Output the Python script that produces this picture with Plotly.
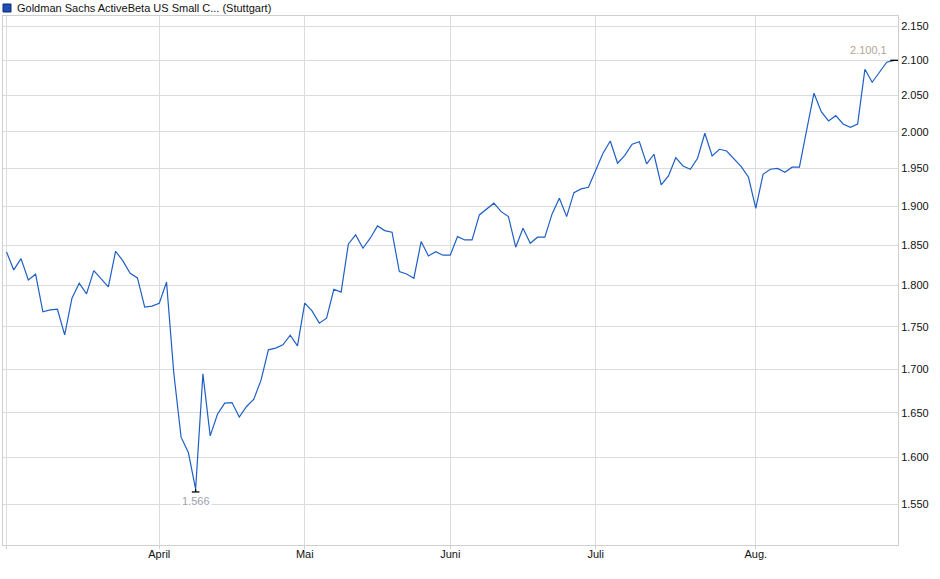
import math
import plotly.graph_objects as go

# Goldman Sachs ActiveBeta US Small Cap (Stuttgart), daily closes, 3 Mar - 28 Aug 2025
close = [
    1842.0, 1819.4, 1833.5, 1807.0, 1814.1, 1767.9, 1770.3, 1771.1, 1740.3, 1784.5,
    1802.9, 1789.8, 1818.5, 1808.6, 1798.4, 1842.8, 1830.6, 1815.3, 1809.5, 1773.6,
    1774.8, 1778.4, 1804.2, 1695.2, 1622.6, 1605.6, 1566.0, 1694.4, 1624.0, 1648.3,
    1660.8, 1661.5, 1645.0, 1657.0, 1665.3, 1687.5, 1722.5, 1724.5, 1728.4, 1739.9,
    1727.2, 1778.4, 1769.1, 1754.3, 1760.3, 1795.5, 1791.9, 1852.1, 1863.5, 1846.6,
    1859.3, 1875.0, 1869.0, 1867.0, 1817.3, 1814.4, 1809.1, 1855.0, 1836.9, 1842.3,
    1837.8, 1837.8, 1861.3, 1857.1, 1857.1, 1889.2, 1896.6, 1904.4, 1893.4, 1887.0,
    1847.9, 1872.1, 1853.0, 1860.6, 1860.6, 1890.5, 1910.9, 1887.0, 1918.2, 1923.1,
    1925.3, 1948.2, 1970.6, 1987.3, 1957.2, 1967.7, 1982.8, 1986.3, 1956.3, 1969.3,
    1928.4, 1940.3, 1964.7, 1953.6, 1949.2, 1963.9, 1997.8, 1967.0, 1976.0, 1973.7,
    1962.6, 1952.7, 1938.5, 1897.8, 1942.5, 1949.2, 1950.2, 1945.2, 1951.9, 1951.9,
    2002.3, 2053.3, 2027.6, 2014.7, 2022.0, 2010.5, 2006.0, 2010.5, 2087.2, 2068.8,
    2083.0, 2097.3, 2100.1,
]
idx = list(range(len(close)))

# first trading day of each month (index into close)
month_pos = [0, 21, 41, 61, 81, 103]
month_names = ["", "April", "Mai", "Juni", "Juli", "Aug."]

y_ticks = [1550, 1600, 1650, 1700, 1750, 1800, 1850, 1900, 1950, 2000, 2050, 2100, 2150]

title = "Goldman Sachs ActiveBeta US Small C... (Stuttgart)"


def de_fmt(v, dec):
    s = f"{v:,.{dec}f}"
    return s.replace(",", "X").replace(".", ",").replace("X", ".")


i_min = min(idx, key=lambda i: close[i])
v_min = close[i_min]
i_last = idx[-1]
v_last = close[-1]

fig = go.Figure()
fig.add_trace(go.Scatter(
    x=idx, y=close, mode="lines",
    line=dict(color="#1f5fc4", width=1.2),
    hoverinfo="x+y",
))
# low marker and last-value marker
fig.add_trace(go.Scatter(
    x=[i_min - 0.52, i_min + 0.52, None, i_min, i_min],
    y=[v_min * 0.998, v_min * 0.998, None, v_min, v_min * 0.998],
    mode="lines", line=dict(color="black", width=1.3), hoverinfo="skip",
))
fig.add_trace(go.Scatter(
    x=[i_last - 0.5, i_last + 0.6], y=[v_last, v_last],
    mode="lines", line=dict(color="black", width=1.3), hoverinfo="skip",
))

fig.add_annotation(
    x=i_min, y=math.log10(v_min), text=de_fmt(v_min, 0),
    showarrow=False, yanchor="top", yshift=-4,
    font=dict(size=11, color="#99a2ad"), bgcolor="white",
)
fig.add_annotation(
    x=i_last, y=math.log10(v_last), text=de_fmt(v_last, 1),
    showarrow=False, xanchor="right", xshift=-5, yanchor="middle", yshift=10,
    font=dict(size=11, color="#b3a698"),
)
fig.add_annotation(
    xref="paper", yref="paper", x=0.0135, y=1.0151, text=title,
    showarrow=False, xanchor="left", yanchor="middle",
    font=dict(size=11, color="#111111"),
)
fig.add_shape(
    type="rect", xref="paper", yref="paper",
    xsizemode="pixel", ysizemode="pixel", xanchor=0, yanchor=1,
    x0=0, x1=8, y0=4, y1=12,
    fillcolor="#1f4fb5", line=dict(color="#0f2a6e", width=1),
)

fig.update_layout(
    width=940, height=579,
    margin=dict(l=3, r=42, t=16, b=34, pad=0),
    paper_bgcolor="white", plot_bgcolor="white",
    separators=",.",
    showlegend=False,
    font=dict(family="Liberation Sans, Arial, sans-serif", size=11, color="#111111"),
    xaxis=dict(
        range=[-0.48, 122.55],
        tickmode="array", tickvals=month_pos, ticktext=month_names,
        showgrid=True, gridcolor="#dcdcdc", gridwidth=1,
        showline=True, linecolor="#cfcfcf", linewidth=1, mirror=True,
        ticks="outside", ticklen=3, tickcolor="#cfcfcf",
        ticklabelstandoff=-4,
        zeroline=False,
    ),
    yaxis=dict(
        type="log", range=[3.17815, 3.33541], side="right",
        tickmode="array", tickvals=y_ticks, tickformat=",.0f",
        showgrid=True, gridcolor="#dcdcdc", gridwidth=1,
        showline=True, linecolor="#cfcfcf", linewidth=1, mirror=True,
        ticks="", zeroline=False,
    ),
)

# the page's default body margin would push the chart 8px off
fig.write_html(
    "out.html",
    config={"displayModeBar": False},
    post_script="document.body.style.margin='0px';",
)
